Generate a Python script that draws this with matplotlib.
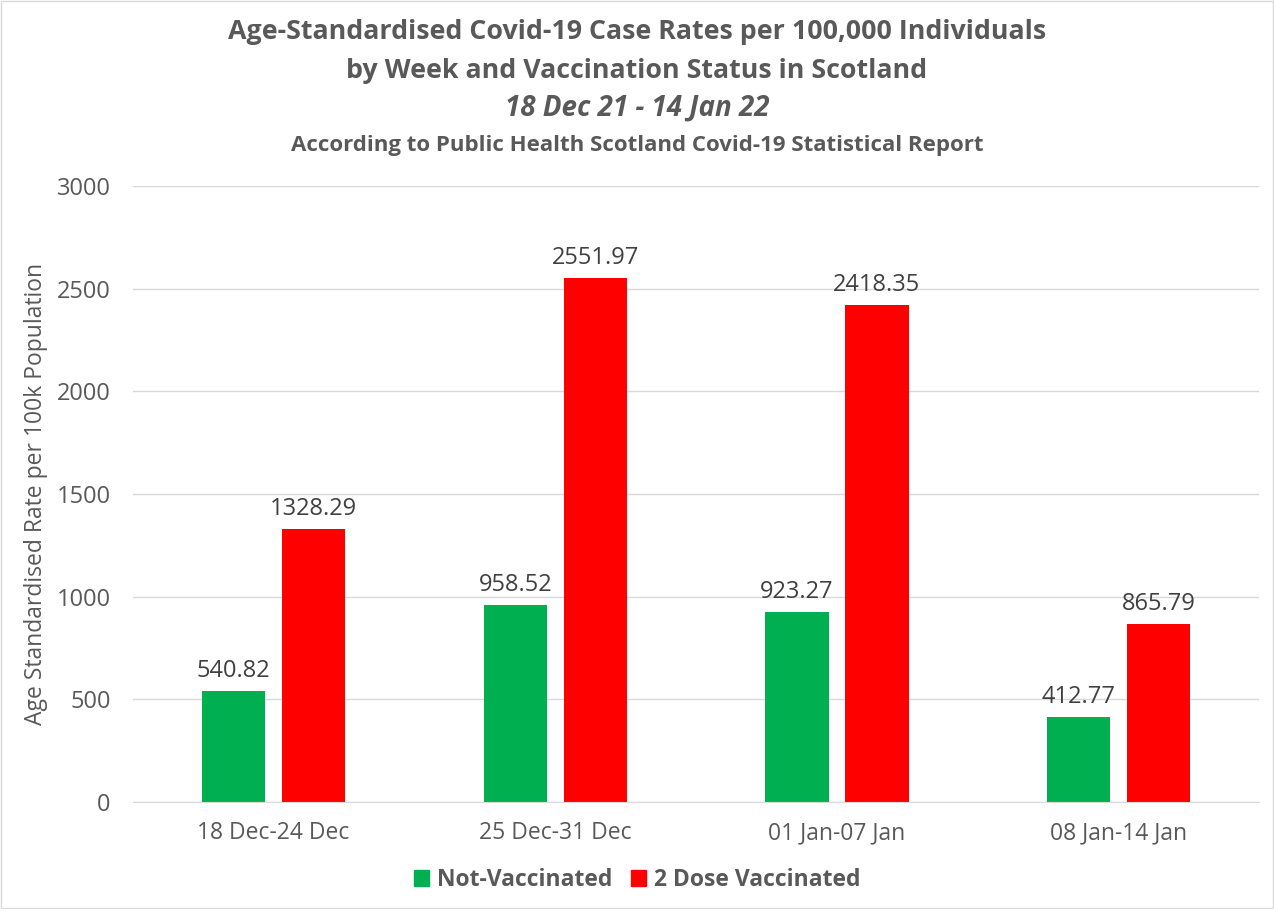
import numpy as np
import matplotlib
matplotlib.use("Agg")
import matplotlib.pyplot as plt
from matplotlib.patches import Rectangle, Patch

weeks = ["18 Dec-24 Dec", "25 Dec-31 Dec", "01 Jan-07 Jan", "08 Jan-14 Jan"]
not_vacc = [540.82, 958.52, 923.27, 412.77]
two_dose = [1328.29, 2551.97, 2418.35, 865.79]

gray = "#595959"
green = "#00B050"
red = "#FF0000"

plt.rcParams['font.family'] = ['Open Sans', 'DejaVu Sans']

fig = plt.figure(figsize=(12.74, 9.09), dpi=100)
ax = fig.add_axes([0.1042, 0.1177, 0.8844, 0.6777])

x = np.arange(len(weeks))
w = 0.224
off = 0.142
ax.bar(x - off, not_vacc, w, color=green, label="Not-Vaccinated")
ax.bar(x + off, two_dose, w, color=red, label="2 Dose Vaccinated")

for xi, v in zip(x - off, not_vacc):
    ax.text(xi, v + 40, f"{v:.2f}", ha="center", va="bottom", fontsize=17, color="#404040")
for xi, v in zip(x + off, two_dose):
    ax.text(xi, v + 40, f"{v:.2f}", ha="center", va="bottom", fontsize=17, color="#404040")

ax.set_xlim(-0.5, 3.5)
ax.set_ylim(0, 3000)
ax.set_yticks(range(0, 3001, 500))
ax.set_xticks(x)
ax.set_xticklabels(weeks)
ax.tick_params(axis="y", length=0, labelsize=17, labelcolor=gray, pad=16)
ax.tick_params(axis="x", length=0, labelsize=16.5, labelcolor=gray, pad=14)
ax.grid(axis="y", color="#D9D9D9", linewidth=1)
ax.set_axisbelow(True)
for s in ["top", "right", "left"]:
    ax.spines[s].set_visible(False)
ax.spines["bottom"].set_color("#D9D9D9")
ax.set_ylabel("Age Standardised Rate per 100k Population", fontsize=16.5, color=gray)
ax.yaxis.set_label_coords(-0.075, 0.5)

fig.text(0.5, 1 - 32 / 909, "Age-Standardised Covid-19 Case Rates per 100,000 Individuals",
         ha="center", va="center", fontsize=19.3, fontweight="bold", color=gray)
fig.text(0.5, 1 - 71 / 909, "by Week and Vaccination Status in Scotland",
         ha="center", va="center", fontsize=19.3, fontweight="bold", color=gray)
fig.text(0.5, 1 - 108 / 909, "18 Dec 21 - 14 Jan 22",
         ha="center", va="center", fontsize=20, fontstyle="italic", fontweight="bold", color=gray)
fig.text(0.5, 1 - 146 / 909, "According to Public Health Scotland Covid-19 Statistical Report",
         ha="center", va="center", fontsize=16, fontweight="bold", color=gray)

handles = [Patch(color=green, label="Not-Vaccinated"), Patch(color=red, label="2 Dose Vaccinated")]
leg = fig.legend(handles=handles, loc="center", bbox_to_anchor=(0.5, 1 - 880 / 909), ncol=2,
                 frameon=False, fontsize=16.5, handlelength=0.65, handleheight=0.65,
                 columnspacing=0.8, handletextpad=0.35)
for t in leg.get_texts():
    t.set_color(gray)
    t.set_fontweight("bold")

fig.patches.append(Rectangle((0.001, 0.001), 0.998, 0.998, transform=fig.transFigure,
                             fill=False, edgecolor="#D9D9D9", linewidth=1))

fig.savefig("out.png", dpi=100)
